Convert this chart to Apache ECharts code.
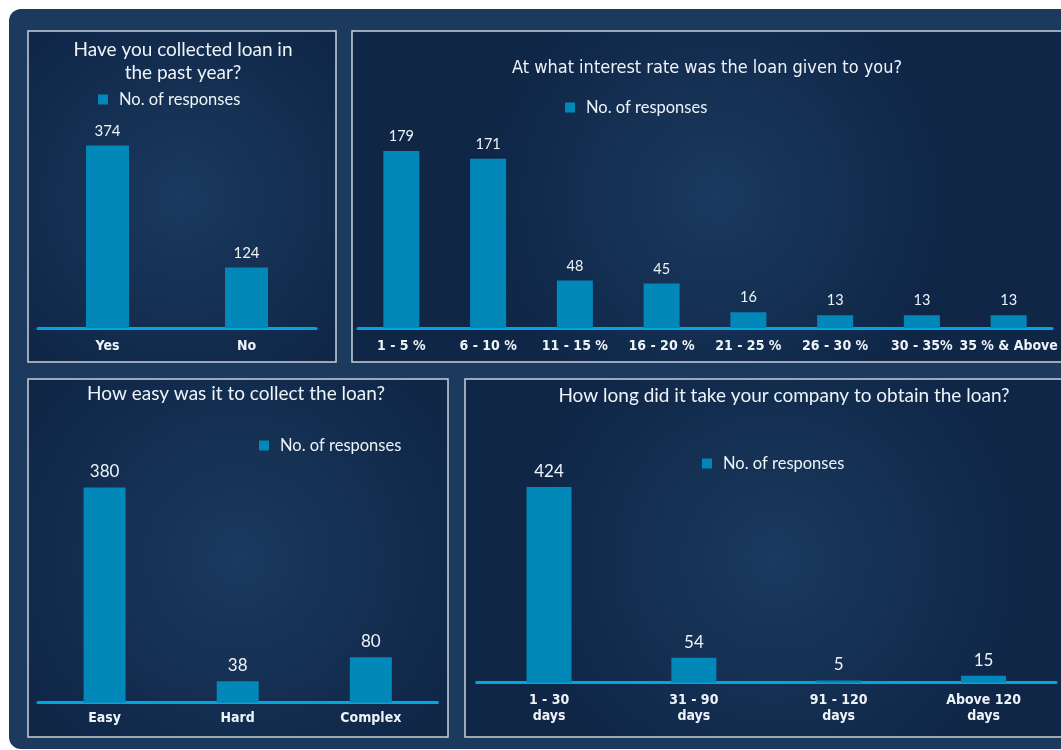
<!DOCTYPE html>
<html>
<head>
<meta charset="utf-8">
<script src="https://cdn.jsdelivr.net/npm/echarts@6/dist/echarts.min.js"></script>
<style>
html,body{margin:0;padding:0;background:#ffffff;}
#c{width:1061px;height:750px;}
</style>
</head>
<body>
<div id="c"></div>
<script>
// ---- data ----
const seriesName = 'No. of responses';

const q1Title = 'Have you collected loan in\nthe past year?';
const q1Cats = ['Yes', 'No'];
const q1Vals = [374, 124];

const q2Title = 'At what interest rate was the loan given to you?';
const q2Cats = ['1 - 5 %', '6 - 10 %', '11 - 15 %', '16 - 20 %', '21 - 25 %', '26 - 30 %', '30 - 35%', '35 % & Above'];
const q2Vals = [179, 171, 48, 45, 16, 13, 13, 13];

const q3Title = 'How easy was it to collect the loan?';
const q3Cats = ['Easy', 'Hard', 'Complex'];
const q3Vals = [380, 38, 80];

const q4Title = 'How long did it take your company to obtain the loan?';
const q4Cats = ['1 - 30\ndays', '31 - 90\ndays', '91 - 120\ndays', 'Above 120\ndays'];
const q4Vals = [424, 54, 5, 15];

// ---- style ----
const REG = 'Lato, "Open Sans", sans-serif';
const COND = '"Liberation Sans Narrow", "DejaVu Sans Condensed", "Arial Narrow", sans-serif';
const BAR = '#0288b8';
const AXIS = '#00a6e4';
const TXT = '#eef3f8';

const chart = echarts.init(document.getElementById('c'));

function panelBg(x, y, w, h) {
  return {
    type: 'rect', z: -10,
    shape: {x: x, y: y, width: w, height: h},
    style: {
      fill: {type: 'radial', x: 0.5, y: 0.5, r: 0.7, colorStops: [
        {offset: 0, color: '#1a3a5f'}, {offset: 1, color: '#0f2647'}]},
      stroke: '#c9d1d9', lineWidth: 1.5
    }
  };
}
function titleText(x, y, text, font, size) {
  return {
    type: 'text', z: 5, x: x, y: y,
    style: {text: text, fill: TXT, font: size + 'px ' + font, textAlign: 'center', textVerticalAlign: 'top', lineHeight: 23}
  };
}

const grids = [
  {left: 38, right: 745, top: 110, bottom: 422},
  {left: 358, right: 9, top: 140, bottom: 422},
  {left: 38, right: 623.6, top: 450, bottom: 47.3},
  {left: 476.6, right: 5, top: 450, bottom: 67.3}
];
const maxes = [447, 190, 446, 504];
const cats = [q1Cats, q2Cats, q3Cats, q4Cats];
const vals = [q1Vals, q2Vals, q3Vals, q4Vals];
const barWidths = [43, 36, 42, 45];
const labelSizes = [15, 14.5, 17, 17];
const labelMargins = [10, 10, 8, 10];
const legendPos = [{left: 98, top: 91}, {left: 565, top: 99}, {left: 259, top: 437}, {left: 702, top: 455}];

const option = {
  backgroundColor: '#ffffff',
  animation: false,
  graphic: [
    {type: 'rect', z: -20, shape: {x: 9, y: 9, width: 1070, height: 740, r: 12}, style: {fill: '#1b3a5e'}},
    panelBg(28, 31, 308, 331),
    panelBg(352, 31, 730, 331),
    panelBg(28, 379, 420, 358),
    panelBg(465, 379, 620, 358),
    titleText(183, 38, q1Title, REG, 19),
    titleText(707, 57, q2Title, COND, 18),
    titleText(236, 382, q3Title, REG, 19),
    titleText(784, 384, q4Title, REG, 19)
  ],
  legend: legendPos.map(p => ({
    left: p.left, top: p.top, data: [seriesName], icon: 'rect',
    itemWidth: 10, itemHeight: 10, itemGap: 10, padding: 0,
    textStyle: {color: TXT, fontSize: 16.5, fontFamily: REG, padding: [0, 0, 0, 6]}
  })),
  grid: grids,
  xAxis: cats.map((c, i) => ({
    type: 'category', gridIndex: i, data: c,
    axisLine: {show: true, lineStyle: {color: AXIS, width: 3}},
    axisTick: {show: false},
    axisLabel: {color: TXT, fontSize: 14, fontWeight: 'bold', fontFamily: COND, margin: labelMargins[i], lineHeight: 16, interval: 0}
  })),
  yAxis: maxes.map((m, i) => ({
    type: 'value', gridIndex: i, min: 0, max: m, show: false, splitLine: {show: false}
  })),
  series: vals.map((v, i) => ({
    name: seriesName, type: 'bar', xAxisIndex: i, yAxisIndex: i, data: v,
    barWidth: barWidths[i],
    itemStyle: {color: BAR},
    label: {show: true, position: 'top', distance: 7, color: TXT, fontSize: labelSizes[i], fontFamily: REG}
  }))
};
chart.setOption(option);
</script>
</body>
</html>
